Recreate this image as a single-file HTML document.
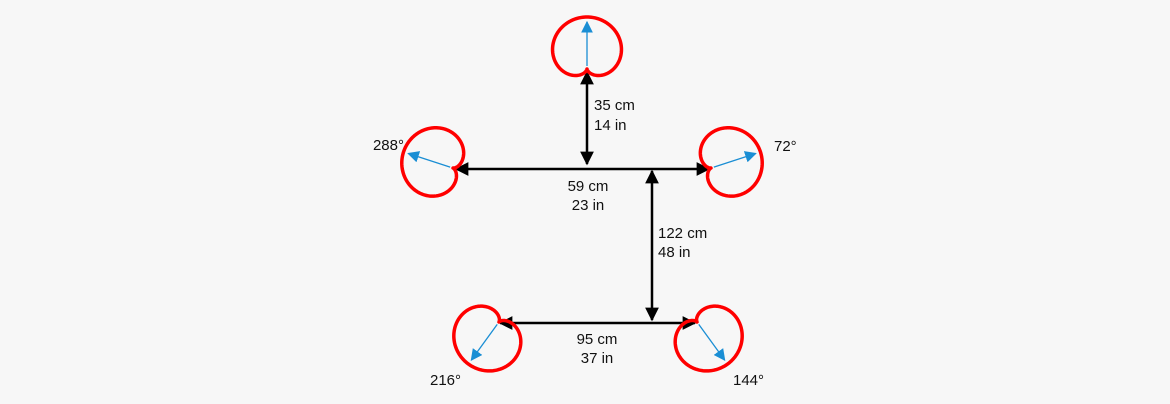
<!DOCTYPE html>
<html><head><style>
body{margin:0;background:#f7f7f7;}
svg{display:block;font-family:"Liberation Sans",sans-serif;font-size:15px;}
</style></head><body>
<svg id="s" width="1170" height="404" viewBox="0 0 1170 404">
<defs>
<marker id="bk" viewBox="0 0 10 10" refX="9" refY="5" markerWidth="5.5" markerHeight="5.5" orient="auto-start-reverse" markerUnits="strokeWidth"><path d="M0,0L10,5L0,10z" fill="#000"/></marker>
<marker id="bl" viewBox="0 0 10 10" refX="9" refY="5" markerWidth="9" markerHeight="9" orient="auto" markerUnits="strokeWidth"><path d="M0,0L10,5L0,10z" fill="#1a8ed4"/></marker>
</defs>
<g stroke="#000" stroke-width="2.5" fill="none">
<line x1="587" y1="72" x2="587" y2="164" marker-start="url(#bk)" marker-end="url(#bk)"/>
<line x1="456" y1="169" x2="709" y2="169" marker-start="url(#bk)" marker-end="url(#bk)"/>
<line x1="652" y1="171" x2="652" y2="320" marker-start="url(#bk)" marker-end="url(#bk)"/>
<line x1="500" y1="323" x2="695" y2="323" marker-start="url(#bk)" marker-end="url(#bk)"/>
</g>
<g id="c"></g>
<g fill="#111">
<text x="594" y="110">35 cm</text><text x="594" y="130">14 in</text>
<text x="588" y="191" text-anchor="middle">59 cm</text><text x="588" y="210" text-anchor="middle">23 in</text>
<text x="658" y="238">122 cm</text><text x="658" y="257">48 in</text>
<text x="597" y="344" text-anchor="middle">95 cm</text><text x="597" y="363" text-anchor="middle">37 in</text>
<text x="404" y="150" text-anchor="end">288°</text>
<text x="774" y="151">72°</text>
<text x="430" y="385">216°</text>
<text x="733" y="385">144°</text>
</g>
</svg>
<script>
var a=26,d="";
for(var i=0;i<=240;i++){var t=i/240*2*Math.PI,r=a*(1+Math.cos(t));var x=r*Math.sin(t)*1.02,y=-r*Math.cos(t);d+=(i?"L":"M")+x.toFixed(2)+","+y.toFixed(2);}
d+="Z";
var list=[[587,69,0],[711,168,72],[697,322,144],[499,322,216],[453,168,288]];
var h="";
list.forEach(function(c){h+='<g transform="translate('+c[0]+','+c[1]+') rotate('+c[2]+')"><path d="'+d+'" fill="none" stroke="#f00" stroke-width="3.5" stroke-linejoin="round"/><line x1="0" y1="-3" x2="0" y2="-47" stroke="#1a8ed4" stroke-width="1.3" marker-end="url(#bl)"/></g>';});
document.getElementById("c").innerHTML=h;
</script>
</body></html>
